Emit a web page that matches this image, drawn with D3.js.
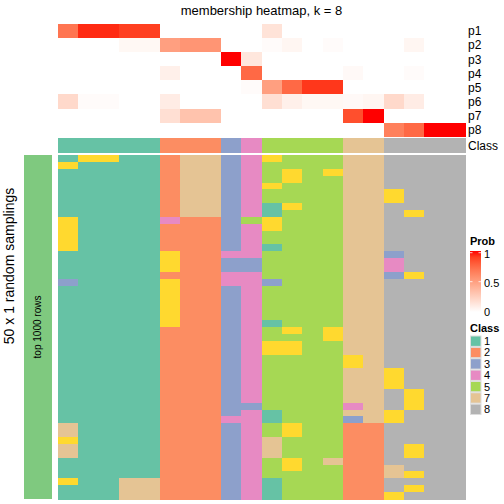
<!DOCTYPE html>
<html><head><meta charset="utf-8">
<script src="https://cdn.jsdelivr.net/npm/d3@7"></script>
<style>body{margin:0;background:#fff}svg text{font-family:"Liberation Sans",Arial,sans-serif}</style>
</head><body><svg id="c" width="504" height="504"></svg>
<script>
const title = "membership heatmap, k = 8";
const probRows = ["p1","p2","p3","p4","p5","p6","p7","p8"];
// membership probabilities, 20 samples per row
const p1 = [0.7,0.95,0.95,0.9,0.9,0,0,0,0,0,0.15,0,0,0,0,0,0,0,0,0];
const p2 = [0,0,0,0.04,0.04,0.5,0.55,0.55,0,0,0.02,0.05,0,0.02,0,0,0,0.05,0,0];
const p3 = [0,0,0,0,0,0,0,0,1,0.13,0,0,0,0,0,0,0,0,0,0];
const p4 = [0,0,0,0,0,0.08,0,0,0,0.75,0,0,0,0,0.03,0,0,0.02,0,0];
const p5 = [0,0,0,0,0,0,0,0,0,0.02,0.5,0.75,0.92,0.92,0,0,0,0,0,0];
const p6 = [0.2,0.02,0.02,0,0,0.1,0,0,0,0,0.17,0.08,0.04,0.04,0.03,0.05,0.2,0.1,0,0];
const p7 = [0,0,0,0,0,0.17,0.32,0.32,0,0,0,0,0,0,0.85,1,0,0,0,0];
const p8 = [0,0,0,0,0,0,0,0,0,0,0,0,0,0,0,0,0.65,0.75,1,1];
const probValues = [p1,p2,p3,p4,p5,p6,p7,p8];
const sampleClass = [1,1,1,1,1,2,2,2,3,4,5,5,5,5,7,7,8,8,8,8];
// 50 random samplings: class per sample (one character per sample)
const samplings = [
"16611277346555778888","61111277345555778888","11111277345656778888","11111277345655778888",
"11111277346555778888","11111277345555776888","11111277345555776888","11111277341655778888",
"11111277341555778688","61111422356555778888","61111222346555778888","61111222345555778888",
"61111222345555778888","61111222341555778888","11111622445555773888","11111622335555774888",
"11111622335555774888","11111222445555773688","31111622443555778888","11111622345555778888",
"11111622345555778888","11111622345555778888","11111622345555778888","11111622345555778888",
"11111622341555778888","11111222345656778888","11111222345556778888","11111222346655778888",
"11111222346655778888","11111222345555678888","11111222345555678888","11111222345555776888",
"11111222345555776888","11111222345555776888","11111222345555778688","11111222345555778688",
"11111222335555478688","11111222341555776888","11111222441555376888","71111222345655228888",
"71111222345655228888","61111222347555228888","71111222347555228688","71111222347555228688",
"11111222345657228888","11111222345655227888","11111222345555227688","61177222341555228888",
"11177222341555228688","11177222341555226888"];
const classLevels = ["1","2","3","4","5","6","7","8"];
const classColors = ["#66C2A5","#FC8D62","#8DA0CB","#E78AC3","#A6D854","#FFD92F","#E5C494","#B3B3B3"];
const legendClasses = ["1","2","3","4","5","7","8"];
const probTicks = [0,0.5,1];
const rowTitle = "50 x 1 random samplings";
const annoLabel = "top 1000 rows";

const svg = d3.select("#c");
const nS = sampleClass.length;
const x = d3.scaleBand().domain(d3.range(nS)).range([58,465]);
const yTop = d3.scaleBand().domain(probRows).range([24,136.7]);
const yLow = d3.scaleBand().domain(d3.range(samplings.length)).range([155,499]);
const probColor = d3.scaleLinear().domain([0,1]).range(["#ffffff","#ff0000"]).interpolate(d3.interpolateLab);
const clsColor = d3.scaleOrdinal().domain(classLevels).range(classColors);

svg.append("text").attr("x",261.5).attr("y",15).attr("text-anchor","middle")
  .attr("font-size",13).text(title);

// top probability heatmap
probRows.forEach((r,i)=>{
  svg.append("g").attr("shape-rendering","crispEdges").selectAll("rect").data(probValues[i]).join("rect")
    .attr("x",(d,j)=>x(j)).attr("y",yTop(r)).attr("width",x.bandwidth()+0.5).attr("height",yTop.bandwidth()+0.5)
    .attr("fill",d=>probColor(d));
  svg.append("text").attr("x",468).attr("y",yTop(r)+yTop.bandwidth()/2).attr("dy","0.36em")
    .attr("font-size",12).text(r);
});
// class annotation
svg.append("g").attr("shape-rendering","crispEdges").selectAll("rect").data(sampleClass).join("rect")
  .attr("x",(d,j)=>x(j)).attr("y",138).attr("width",x.bandwidth()+0.5).attr("height",14.7)
  .attr("fill",d=>clsColor(String(d)));
svg.append("text").attr("x",468).attr("y",145.3).attr("dy","0.36em").attr("font-size",12).text("Class");

// lower heatmap
samplings.forEach((s,i)=>{
  svg.append("g").attr("shape-rendering","crispEdges").selectAll("rect").data(s.split("")).join("rect")
    .attr("x",(d,j)=>x(j)).attr("y",yLow(i)).attr("width",x.bandwidth()+0.5).attr("height",yLow.bandwidth()+0.5)
    .attr("fill",d=>clsColor(d));
});
// left annotation
svg.append("rect").attr("x",24).attr("y",155).attr("width",28).attr("height",344).attr("fill","#7FC97F");
svg.append("text").attr("transform","translate(41,327) rotate(-90)").attr("text-anchor","middle")
  .attr("font-size",10).text(annoLabel);
svg.append("text").attr("transform","translate(14,266) rotate(-90)").attr("text-anchor","middle")
  .attr("font-size",14).text(rowTitle);

// Prob legend
svg.append("text").attr("x",470).attr("y",245).attr("font-size",11).attr("font-weight","bold").text("Prob");
const defs = svg.append("defs");
const grad = defs.append("linearGradient").attr("id","pg").attr("x1",0).attr("y1",1).attr("x2",0).attr("y2",0);
d3.range(0,1.01,0.1).forEach(t=>grad.append("stop").attr("offset",t).attr("stop-color",probColor(t)));
const yLeg = d3.scaleLinear().domain([0,1]).range([310.7,252.7]);
svg.append("rect").attr("x",470).attr("y",251).attr("width",11).attr("height",61).attr("fill","url(#pg)");
probTicks.forEach(t=>{
  svg.append("text").attr("x",484).attr("y",yLeg(t)+1).attr("dy","0.36em").attr("font-size",11).text(t);
  if(t>0){
    svg.append("line").attr("x1",470).attr("x2",472.5).attr("y1",yLeg(t)).attr("y2",yLeg(t)).attr("stroke","#fff").attr("stroke-width",0.8);
    svg.append("line").attr("x1",478.5).attr("x2",481).attr("y1",yLeg(t)).attr("y2",yLeg(t)).attr("stroke","#fff").attr("stroke-width",0.8);
  }
});
// Class legend
svg.append("text").attr("x",470).attr("y",332).attr("font-size",11).attr("font-weight","bold").text("Class");
const yCls = d3.scaleBand().domain(legendClasses).range([335.5,415]);
legendClasses.forEach(c=>{
  svg.append("rect").attr("x",470.5).attr("y",yCls(c)+0.5).attr("width",10.5).attr("height",yCls.bandwidth()-1)
    .attr("fill",clsColor(c)).attr("stroke","#ddd").attr("stroke-width",1);
  svg.append("text").attr("x",484).attr("y",yCls(c)+yCls.bandwidth()/2).attr("dy","0.36em").attr("font-size",11).text(c);
});
</script></body></html>
